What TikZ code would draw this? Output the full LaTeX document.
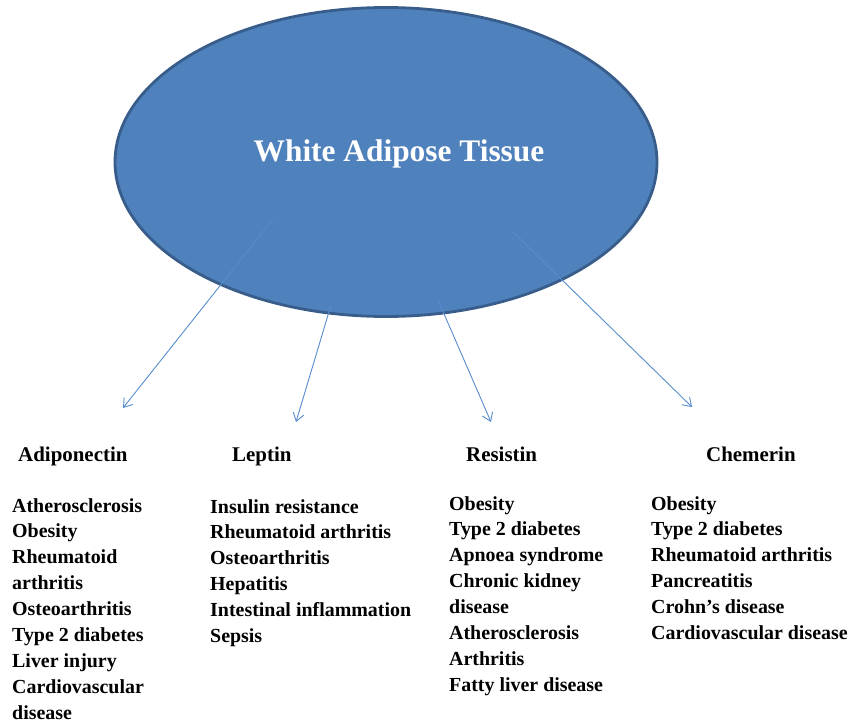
\documentclass[tikz,border=0pt]{standalone}
\usepackage{fontspec}
\setmainfont{Liberation Serif}
\usetikzlibrary{arrows.meta,shapes.geometric}
\definecolor{WatBlue}{RGB}{79,129,189}
\definecolor{WatEdge}{RGB}{56,93,138}
\definecolor{ArrBlue}{RGB}{86,140,205}
\begin{document}
\begin{tikzpicture}[x=1bp,y=-1bp,>={Straight Barb[length=8bp,width=11bp]},
  hdr/.style={anchor=base west,inner sep=0pt,font=\fontsize{21}{26}\selectfont\bfseries},
  lst/.style={anchor=north west,inner sep=0pt,align=left,font=\fontsize{20}{26}\selectfont\bfseries}]
\useasboundingbox (0,0) rectangle (849,724);
\node[ellipse,draw=WatEdge,line width=2.8bp,fill=WatBlue,minimum width=542bp,minimum height=309bp] (wat) at (386,162) {};
\node[text=white,font=\fontsize{31.5}{36}\selectfont\bfseries] (watlbl) at (399,154) {White Adipose Tissue};
% hormones
\foreach \n/\x/\t in {adipo/18/Adiponectin,lep/232/Leptin,res/466/Resistin,chem/706/Chemerin}
  \node[hdr] (\n) at (\x,461) {\t};
\node[lst] (adipo-l) at (12,498) {Atherosclerosis\\Obesity\\Rheumatoid\\arthritis\\Osteoarthritis\\Type 2 diabetes\\Liver injury\\Cardiovascular\\disease};
\node[lst] (lep-l) at (210,499) {Insulin resistance\\Rheumatoid arthritis\\Osteoarthritis\\Hepatitis\\Intestinal inflammation\\Sepsis};
\node[lst] (res-l) at (449,496) {Obesity\\Type 2 diabetes\\Apnoea syndrome\\Chronic kidney\\disease\\Atherosclerosis\\Arthritis\\Fatty liver disease};
\node[lst] (chem-l) at (651,496) {Obesity\\Type 2 diabetes\\Rheumatoid arthritis\\Pancreatitis\\Crohn’s disease\\Cardiovascular disease};
% arrows
\foreach \n/\ax/\ay/\bx/\by in {adipo/273/219/123/408,lep/331/305/296/422,res/438/300/491/422,chem/513/232/692/407}{
  \coordinate (\n-s) at (\ax,\ay); \coordinate (\n-e) at (\bx,\by);
  \draw[->,ArrBlue,line width=.9bp] (\n-s)--(\n-e);}
\end{tikzpicture}
\end{document}
